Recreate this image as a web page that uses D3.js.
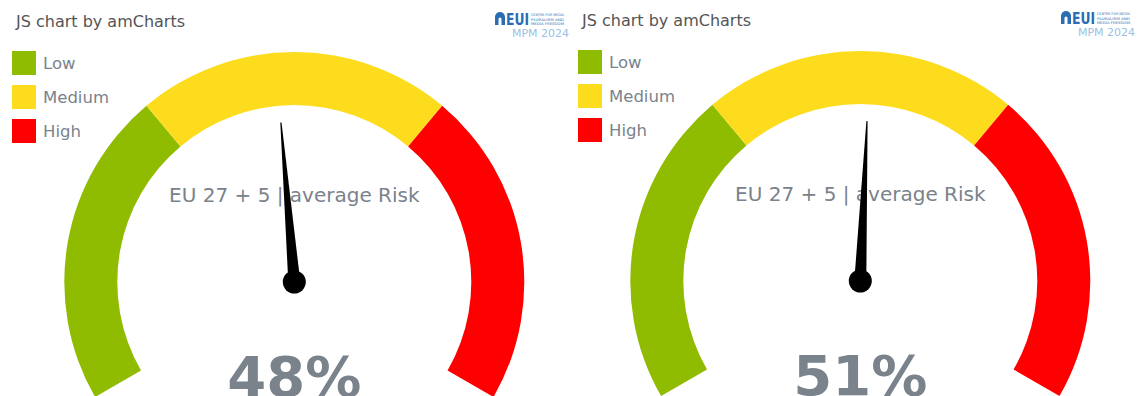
<!DOCTYPE html>
<html>
<head>
<meta charset="utf-8">
<script src="https://cdn.jsdelivr.net/npm/d3@7"></script>
<style>
  html, body { margin: 0; padding: 0; background: #fff; overflow: hidden; }
  svg { display: block; font-family: "DejaVu Sans", Verdana, sans-serif; }
</style>
</head>
<body>
<svg id="chart" width="1137" height="396"></svg>
<script>
// ---- data ----
const chartTitle = "JS chart by amCharts";
const gaugeLabel = "EU 27 + 5 | average Risk";
const gaugeValues = [48, 51];
const bandNames = ["Low", "Medium", "High"];
const bandStarts = [0, 33.33, 66.67];
const bandEnds = [33.33, 66.67, 100];
const bandColors = ["#8fbb00", "#fcdc1c", "#ff0000"];
const logoLines = ["CENTRE FOR MEDIA", "PLURALISM AND", "MEDIA FREEDOM"];
const logoYear = "MPM 2024";

// ---- layout ----
const svg = d3.select("#chart");
const panelX = [0, 566];
const panelDY = [0, -1];
const cxRel = 294.3, cyRel = 282;
const outerR = 230, innerR = 177;
const needleR = 160, needleBase = 6, needleTip = 0.6, hubR = 11.5;
const textGray = "#7a828b";

const angle = d3.scaleLinear().domain([0, 100]).range([-2 * Math.PI / 3, 2 * Math.PI / 3]);
const arc = d3.arc().innerRadius(innerR).outerRadius(outerR);

gaugeValues.forEach((val, i) => {
  const g = svg.append("g").attr("transform", `translate(${panelX[i]},${panelDY[i]})`);

  // title
  g.append("text").attr("x", 16).attr("y", 27)
    .attr("font-size", 16).attr("fill", "#555")
    .text(chartTitle);

  // legend
  const leg = g.append("g").attr("transform", "translate(12,51)");
  bandNames.forEach((name, k) => {
    const row = leg.append("g").attr("transform", `translate(0,${k * 34})`);
    row.append("rect").attr("width", 24).attr("height", 24).attr("fill", bandColors[k]);
    row.append("text").attr("x", 31).attr("y", 18)
      .attr("font-size", 16.5).attr("fill", textGray).text(name);
  });

  // gauge
  const gg = g.append("g").attr("transform", `translate(${cxRel},${cyRel})`);
  bandNames.forEach((name, k) => {
    gg.append("path")
      .attr("d", arc({ startAngle: angle(bandStarts[k]), endAngle: angle(bandEnds[k]) }))
      .attr("fill", bandColors[k]);
  });

  // label
  gg.append("text").attr("x", 0).attr("y", -80)
    .attr("text-anchor", "middle").attr("font-size", 20).attr("fill", textGray)
    .text(gaugeLabel);

  // needle
  const deg = angle(val) * 180 / Math.PI;
  const nd = gg.append("g").attr("transform", `rotate(${deg})`);
  nd.append("path")
    .attr("d", `M${-needleBase},0 L${-needleTip},${-needleR} L${needleTip},${-needleR} L${needleBase},0 Z`)
    .attr("fill", "#000");
  gg.append("circle").attr("r", hubR).attr("fill", "#000");

  // value
  gg.append("text").attr("x", 0).attr("y", 114)
    .attr("text-anchor", "middle").attr("font-size", 56).attr("font-weight", "bold")
    .attr("fill", textGray).text(val + "%");

  // logo
  const lg = g.append("g").attr("transform", "translate(495,12)");
  lg.append("path")
    .attr("d", "M0,13 L0,5 A5,5 0 0 1 10,5 L10,13 Z")
    .attr("fill", "#2a6db5");
  lg.append("path")
    .attr("d", "M3.5,13 L3.5,7 A1.5,1.5 0 0 1 6.5,7 L6.5,13 Z")
    .attr("fill", "#fff");
  lg.append("text").attr("x", 11).attr("y", 13)
    .attr("font-size", 16).attr("font-weight", "bold").attr("fill", "#2a6db5")
    .attr("textLength", 23).attr("lengthAdjust", "spacingAndGlyphs")
    .text("EUI");
  logoLines.forEach((t, k) => {
    lg.append("text").attr("x", 36).attr("y", 4 + k * 4.6)
      .attr("font-size", 3.5).attr("fill", "#2a6db5")
      .attr("textLength", 33).attr("lengthAdjust", "spacingAndGlyphs")
      .text(t);
  });
  lg.append("text").attr("x", 17).attr("y", 25)
    .attr("font-size", 11).attr("fill", "#9dbfe3")
    .attr("textLength", 57).attr("lengthAdjust", "spacingAndGlyphs")
    .text(logoYear);
});
</script>
</body>
</html>
